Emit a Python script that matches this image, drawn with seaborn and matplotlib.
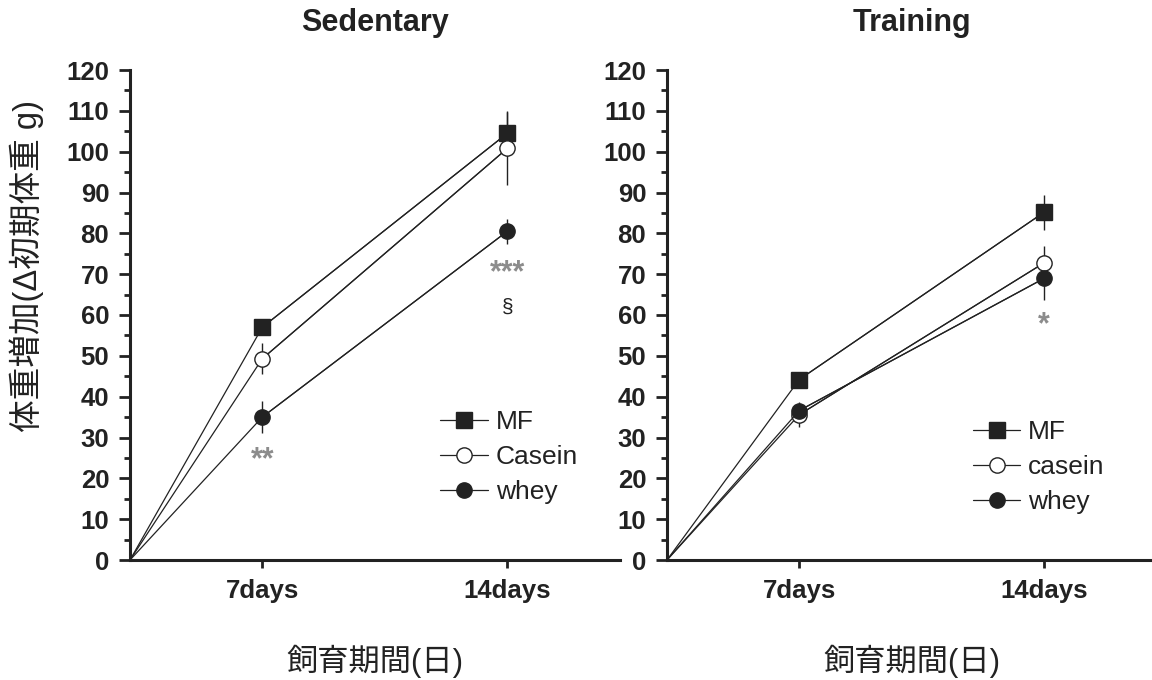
import matplotlib
matplotlib.use("Agg")
import matplotlib.pyplot as plt
import seaborn as sns
import pandas as pd
from matplotlib.ticker import MultipleLocator

# ---- data (body weight gain, g) ----
days = [0, 7, 14]
day_labels = ["", "7days", "14days"]

# Sedentary
sed_mf = [0, 57.0, 104.5]
sed_mf_err = [0, 1.0, 5.5]
sed_casein = [0, 49.3, 100.8]
sed_casein_err = [0, 3.8, 9.0]
sed_whey = [0, 35.0, 80.5]
sed_whey_err = [0, 4.0, 3.0]

# Training
tr_mf = [0, 44.2, 85.2]
tr_mf_err = [0, 1.0, 4.3]
tr_casein = [0, 35.6, 72.8]
tr_casein_err = [0, 3.0, 4.0]
tr_whey = [0, 36.6, 69.0]
tr_whey_err = [0, 1.0, 5.3]

sed_labels = ["MF", "Casein", "whey"]
tr_labels = ["MF", "casein", "whey"]

# significance marks: (day, y, text)
sed_marks = [(7, 24.5, "**"), (14, 70.3, "***")]
sed_section = (14, 62.0, "§")
tr_marks = [(14, 57.5, "*")]

# where each day sits along the (non-linear) x axis
x_at = {0: 0.0, 7: 0.27, 14: 0.77}

sns.set_style("ticks")
plt.rcParams["font.family"] = ["Liberation Sans", "Noto Sans CJK JP", "DejaVu Sans"]
plt.rcParams["text.color"] = "#222222"

fig = plt.figure(figsize=(11.52, 6.8), dpi=100)
ax1 = fig.add_axes([130 / 1152, 1 - 560 / 680, 490 / 1152, 490 / 680])
ax2 = fig.add_axes([667 / 1152, 1 - 560 / 680, 490 / 1152, 490 / 680])

styles = [
    dict(marker="s", markerfacecolor="#222222", markersize=11.5),
    dict(marker="o", markerfacecolor="white", markersize=11),
    dict(marker="o", markerfacecolor="#222222", markersize=11),
]


def draw_panel(ax, series, errs, labels, title):
    for vals, err, lab, st in zip(series, errs, labels, styles):
        df = pd.DataFrame({"x": [x_at[d] for d in days], "y": vals, "err": err})
        ax.errorbar(df["x"], df["y"], yerr=df["err"], fmt="none", ecolor="#222222",
                    elinewidth=1.0, capsize=0, zorder=2)
        # line from the origin, then markers only on the measured days
        sns.lineplot(data=df, x="x", y="y", ax=ax, color="#222222", lw=0.9,
                     zorder=3, clip_on=False)
        sns.lineplot(data=df[df["x"] > 0], x="x", y="y", ax=ax, color="#222222",
                     lw=0.9, markeredgecolor="#222222", markeredgewidth=1.0,
                     label=lab, zorder=3, clip_on=False, **st)
    ax.set_xlim(0, 1)
    ax.set_ylim(0, 120)
    ax.yaxis.set_major_locator(MultipleLocator(10))
    ax.yaxis.set_minor_locator(MultipleLocator(5))
    ax.set_xticks([x_at[d] for d in days[1:]])
    ax.set_xticklabels(day_labels[1:])
    for s in ["top", "right"]:
        ax.spines[s].set_visible(False)
    for s in ["left", "bottom"]:
        ax.spines[s].set_linewidth(2.2)
        ax.spines[s].set_color("#222222")
    ax.tick_params(axis="y", which="major", length=8, width=2, labelsize=18.5,
                   colors="#222222", pad=7)
    ax.tick_params(axis="y", which="minor", length=4.5, width=2, colors="#222222")
    ax.tick_params(axis="x", length=6, width=2, labelsize=18.5, colors="#222222", pad=8)
    for t in ax.get_xticklabels() + ax.get_yticklabels():
        t.set_fontweight("bold")
    ax.set_xlabel("飼育期間(日)", fontsize=22.5, labelpad=30, color="#222222")
    ax.set_ylabel("")
    ax.set_title(title, fontsize=22, fontweight="bold", pad=28)


draw_panel(ax1, [sed_mf, sed_casein, sed_whey],
           [sed_mf_err, sed_casein_err, sed_whey_err], sed_labels, "Sedentary")
draw_panel(ax2, [tr_mf, tr_casein, tr_whey],
           [tr_mf_err, tr_casein_err, tr_whey_err], tr_labels, "Training")

ax1.set_ylabel("体重増加(Δ初期体重 g)", fontsize=23.5, color="#222222")
ax1.yaxis.set_label_coords(-0.176, 0.6)

for ax, marks in [(ax1, sed_marks), (ax2, tr_marks)]:
    for d, y, txt in marks:
        ax.text(x_at[d], y, txt, ha="center", va="center", color="#8c8c8c",
                fontsize=22, fontweight="bold")
d, y, txt = sed_section
ax1.text(x_at[d], y, txt, ha="center", va="center", color="#222222", fontsize=15)

leg_kw = dict(loc="upper left", frameon=False, fontsize=19, handlelength=1.8,
              handletextpad=0.3, labelspacing=0.42, borderpad=0, borderaxespad=0)
ax1.legend(bbox_to_anchor=(0.633, 0.306), **leg_kw)
ax2.legend(bbox_to_anchor=(0.624, 0.286), **leg_kw)

fig.savefig("out.png", dpi=100)
